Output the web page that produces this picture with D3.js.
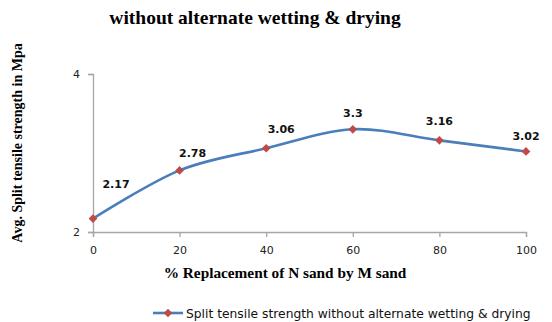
<!DOCTYPE html>
<html>
<head>
<meta charset="utf-8">
<script src="https://cdn.jsdelivr.net/npm/d3@7"></script>
<style>
  body { margin: 0; background: #fff; }
  svg { display: block; }
</style>
</head>
<body>
<svg id="chart" width="552" height="322"></svg>
<script>
// data
const replacement = [0, 20, 40, 60, 80, 100]
const strength = [2.17, 2.78, 3.06, 3.3, 3.16, 3.02]
const xTicks = [0, 20, 40, 60, 80, 100]
const yTicks = [2, 4]
const seriesName = 'Split tensile strength without alternate wetting & drying'

const svg = d3.select('#chart')
const margin = {top: 74, right: 26, bottom: 90, left: 93}
const width = 552, height = 322

var x = d3.scaleLinear().domain([0, 100]).range([margin.left, width - margin.right])
var y = d3.scaleLinear().domain([2, 4]).range([height - margin.bottom, margin.top])

const tickFont = 'Verdana, "DejaVu Sans", sans-serif'
const serif = '"Liberation Serif", "Times New Roman", serif'

// x axis
var xAxis = svg.append('g')
    .attr('transform', `translate(0,${y(2)})`)
    .call(d3.axisBottom(x).tickValues(xTicks).tickSize(5).tickPadding(9))
// y axis
var yAxis = svg.append('g')
    .attr('transform', `translate(${x(0)},0)`)
    .call(d3.axisLeft(y).tickValues(yTicks).tickFormat(d3.format('d')).tickSize(5).tickPadding(8))

svg.selectAll('.domain, .tick line').attr('stroke', '#a6a6a6').attr('stroke-width', 1.3)
svg.selectAll('.tick text')
    .attr('fill', '#222')
    .style('font-family', tickFont)
    .style('font-size', '11px')

// line, smoothed like the spreadsheet
var pts = replacement.map((r, i) => [x(r), y(strength[i])])
svg.append('path')
    .attr('d', d3.line().curve(d3.curveCardinal.tension(0))(pts))
    .attr('fill', 'none')
    .attr('stroke', '#4a7ebb')
    .attr('stroke-width', 2.6)

var diamond = d3.symbol().type(d3.symbolDiamond2).size(48)
svg.selectAll('.marker')
    .data(pts)
    .enter()
    .append('path')
    .attr('class', 'marker')
    .attr('d', diamond)
    .attr('transform', d => `translate(${d[0]},${d[1]})`)
    .attr('fill', '#be4b48')

// data labels (first points sit to the right of the marker)
const labelShift = [[23, -31], [13, -13], [15, -15], [0, -12], [0, -15], [0, -11]]
svg.selectAll('.dlabel')
    .data(strength)
    .enter()
    .append('text')
    .attr('x', (d, i) => pts[i][0] + labelShift[i][0])
    .attr('y', (d, i) => pts[i][1] + labelShift[i][1])
    .attr('text-anchor', 'middle')
    .style('font-family', tickFont)
    .style('font-size', '11px')
    .style('font-weight', 'bold')
    .attr('fill', '#111')
    .text(d => d)

// titles
svg.append('text')
    .attr('x', 255).attr('y', 24)
    .attr('text-anchor', 'middle')
    .style('font-family', serif).style('font-weight', 'bold').style('font-size', '19.5px')
    .text('without alternate wetting & drying')

svg.append('text')
    .attr('transform', 'translate(22,143) rotate(-90)')
    .attr('text-anchor', 'middle')
    .style('font-family', serif).style('font-weight', 'bold').style('font-size', '14px')
    .text('Avg. Split tensile strength in Mpa')

svg.append('text')
    .attr('x', 285).attr('y', 278)
    .attr('text-anchor', 'middle')
    .style('font-family', serif).style('font-weight', 'bold').style('font-size', '15.3px')
    .text('% Replacement of N sand by M sand')

// legend
var legend = svg.append('g').attr('transform', 'translate(153,313)')
legend.append('line')
    .attr('x1', 0).attr('x2', 30).attr('y1', 0).attr('y2', 0)
    .attr('stroke', '#4a7ebb').attr('stroke-width', 2.6)
legend.append('path')
    .attr('d', diamond)
    .attr('transform', 'translate(15,0)')
    .attr('fill', '#be4b48')
legend.append('text')
    .attr('x', 33).attr('y', 4.5)
    .style('font-family', '"DejaVu Sans", Verdana, sans-serif')
    .style('font-size', '12.3px')
    .attr('fill', '#111')
    .text(seriesName)
</script>
</body>
</html>
